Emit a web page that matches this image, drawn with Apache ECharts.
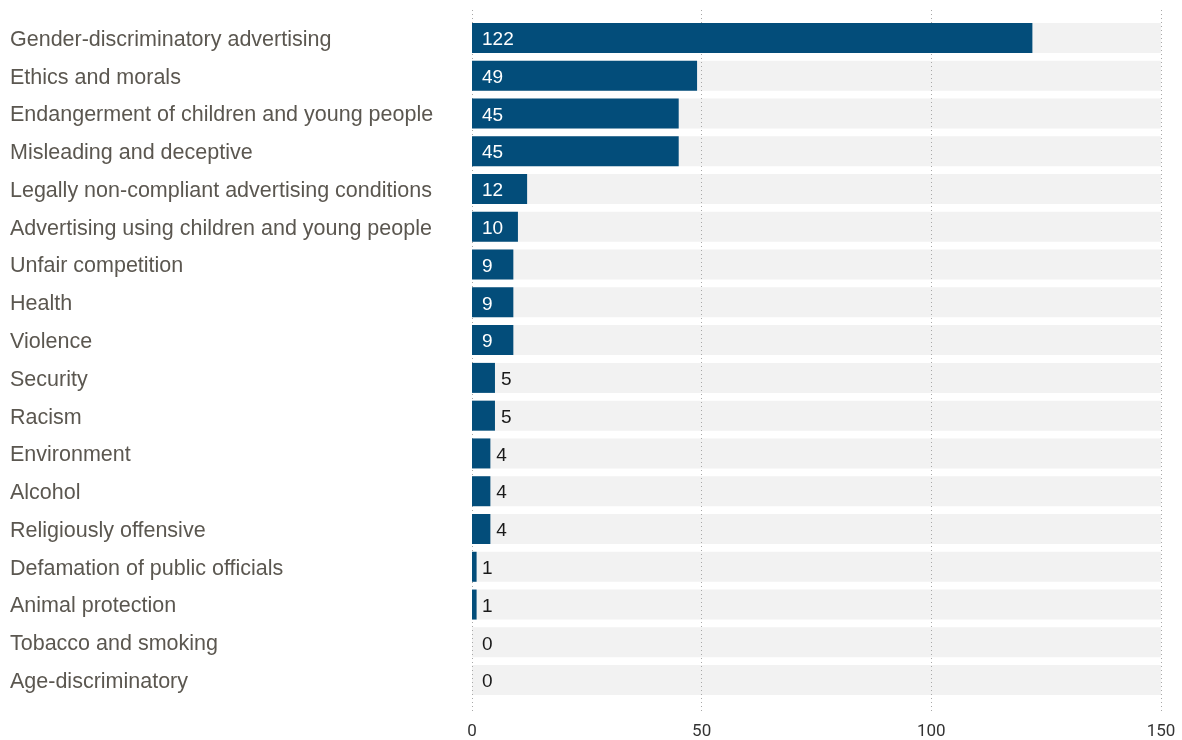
<!DOCTYPE html>
<html>
<head>
<meta charset="utf-8">
<script src="https://cdn.jsdelivr.net/npm/echarts@6/dist/echarts.min.js"></script>
<style>
  html, body { margin: 0; padding: 0; background: #ffffff; }
  #chart { width: 1182px; height: 740px; }
</style>
</head>
<body>
<div id="chart"></div>
<script>
// Complaint topics and number of cases
const categories = [
  'Gender-discriminatory advertising',
  'Ethics and morals',
  'Endangerment of children and young people',
  'Misleading and deceptive',
  'Legally non-compliant advertising conditions',
  'Advertising using children and young people',
  'Unfair competition',
  'Health',
  'Violence',
  'Security',
  'Racism',
  'Environment',
  'Alcohol',
  'Religiously offensive',
  'Defamation of public officials',
  'Animal protection',
  'Tobacco and smoking',
  'Age-discriminatory'
];
const values = [122, 49, 45, 45, 12, 10, 9, 9, 9, 5, 5, 4, 4, 4, 1, 1, 0, 0];
const axisMax = 150;
const tickInterval = 50;

const BAR = '#034d7a';
const TRACK = '#f2f2f2';
const LABEL_FONT = '"Liberation Sans", Arial, sans-serif';
const TICK_FONT = 'Roboto, "Liberation Sans", sans-serif';

function labelFor(v) {
  if (v >= 9) {
    return { position: 'insideLeft', distance: 10, color: '#ffffff' };
  }
  if (v >= 4) {
    return { position: 'right', distance: 6, color: '#1a1a1a' };
  }
  return { position: 'insideLeft', distance: 10, color: '#1a1a1a' };
}

const barData = values.map(v => ({ value: v, label: labelFor(v) }));
const trackData = values.map(() => axisMax);

const chart = echarts.init(document.getElementById('chart'), null, { renderer: 'canvas' });

chart.setOption({
  animation: false,
  backgroundColor: '#ffffff',
  grid: [
    // gridlines and value ticks
    { left: 472, right: 21, top: 10, bottom: 28, containLabel: false },
    // bars
    { left: 472, right: 21, top: 19, bottom: 41, containLabel: false }
  ],
  xAxis: [
    {
      gridIndex: 0, type: 'value', min: 0, max: axisMax, interval: tickInterval,
      axisLine: { show: false }, axisTick: { show: false },
      axisLabel: { color: '#333333', fontFamily: TICK_FONT, fontSize: 17, margin: 11 },
      splitLine: { show: true, lineStyle: { color: '#a8a8a8', type: [1, 3], width: 1 } },
      z: 1
    },
    {
      gridIndex: 1, type: 'value', min: 0, max: axisMax, interval: tickInterval,
      show: false, splitLine: { show: false }
    }
  ],
  yAxis: [
    {
      gridIndex: 0, type: 'category', data: categories, inverse: true, show: false
    },
    {
      gridIndex: 1, type: 'category', data: categories, inverse: true,
      axisLine: { show: false }, axisTick: { show: false },
      axisLabel: {
        align: 'left', verticalAlign: 'top', lineHeight: 4,
        margin: 462, color: '#5b5750',
        fontFamily: LABEL_FONT, fontSize: 21.5
      },
      splitLine: { show: false }
    }
  ],
  series: [
    {
      type: 'bar', xAxisIndex: 1, yAxisIndex: 1, data: trackData,
      barWidth: 30, barGap: '-100%', silent: true, z: -1,
      itemStyle: { color: TRACK }
    },
    {
      type: 'bar', xAxisIndex: 1, yAxisIndex: 1, data: barData,
      barWidth: 30, barGap: '-100%', z: 3,
      itemStyle: { color: BAR },
      label: {
        show: true, fontFamily: LABEL_FONT, fontSize: 19, offset: [0, 2]
      }
    }
  ]
});
</script>
</body>
</html>
